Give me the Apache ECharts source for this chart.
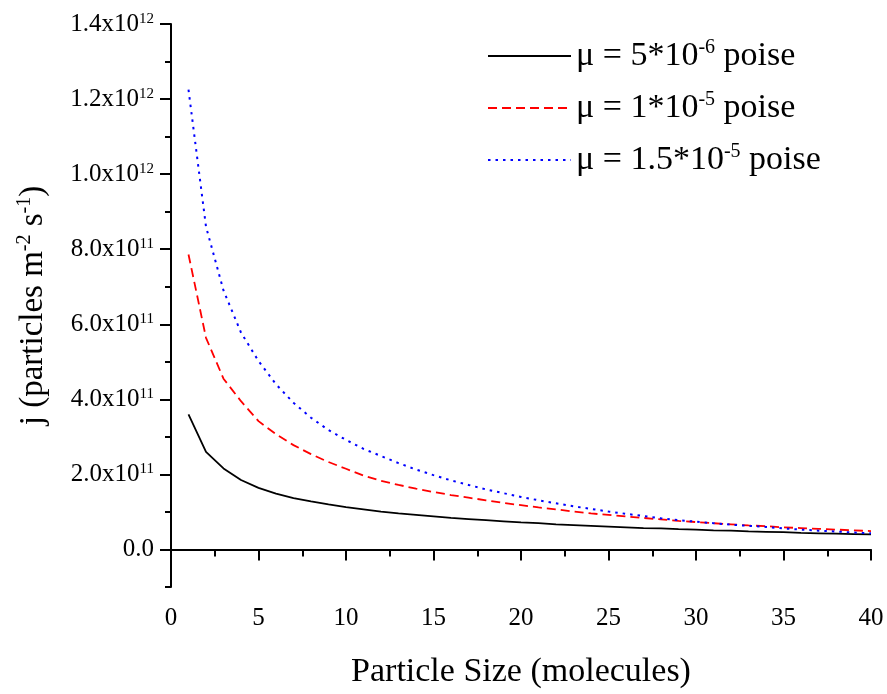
<!DOCTYPE html>
<html>
<head>
<meta charset="utf-8">
<script src="https://cdn.jsdelivr.net/npm/echarts@6/dist/echarts.min.js"></script>
<style>html,body{margin:0;padding:0;background:#fff;}#c{width:887px;height:694px;}</style>
</head>
<body>
<div id="c"></div>
<script>
// particle size (molecules)
const sizes = [1,2,3,4,5,6,7,8,9,10,11,12,13,14,15,16,17,18,19,20,21,22,23,24,25,26,27,28,29,30,31,32,33,34,35,36,37,38,39,40];
// j values in units of 1e11 particles m^-2 s^-1
const jMu5e6 = [3.60,2.60,2.16,1.85,1.64,1.49,1.37,1.28,1.20,1.13,1.07,1.01,0.96,0.92,0.88,0.84,0.81,0.78,0.75,0.72,0.70,0.67,0.65,0.63,0.61,0.59,0.57,0.56,0.54,0.53,0.51,0.50,0.48,0.47,0.46,0.44,0.43,0.42,0.41,0.40];
const jMu1e5 = [7.86,5.64,4.55,3.95,3.42,3.07,2.78,2.54,2.33,2.15,1.97,1.83,1.72,1.62,1.53,1.45,1.38,1.31,1.24,1.18,1.12,1.07,1.01,0.96,0.92,0.88,0.84,0.80,0.76,0.73,0.70,0.67,0.64,0.62,0.59,0.57,0.55,0.53,0.51,0.49];
const jMu15e5 = [12.25,8.60,6.90,5.78,5.02,4.40,3.91,3.51,3.18,2.92,2.68,2.49,2.30,2.13,1.98,1.84,1.72,1.60,1.50,1.40,1.31,1.23,1.15,1.08,1.01,0.95,0.89,0.83,0.78,0.74,0.70,0.66,0.63,0.60,0.56,0.53,0.50,0.48,0.45,0.43];
const seriesNames = ['μ = 5*10^-6 poise','μ = 1*10^-5 poise','μ = 1.5*10^-5 poise'];
const yLabelValues = [0,2e11,4e11,6e11,8e11,1e12,1.2e12,1.4e12];

const SCALE = 1e11;
const FONT = '"Liberation Serif","DejaVu Serif",serif';
function pairs(ys){ return sizes.map((x,i)=>[x, ys[i]*SCALE]); }

function yFmt(v){
  if (v === 0) return '{a|0.0}';
  const e = Math.floor(Math.log10(Math.abs(v)) + 1e-9);
  const m = v/Math.pow(10,e);
  return '{a|' + m.toFixed(1) + 'x10}{s|' + e + '}';
}
function legendFmt(name){
  const m = name.match(/^(.*)\^(\S+)(.*)$/);
  return '{t|' + m[1] + '}{s|' + m[2] + '}{t|' + m[3] + '}';
}

const chart = echarts.init(document.getElementById('c'));
const supStyle = {fontSize:15, fontFamily:FONT, color:'#000', verticalAlign:'top', lineHeight:14};
chart.setOption({
  animation:false,
  backgroundColor:'#fff',
  grid:{left:171, right:16, top:24, bottom:106},
  legend:{
    orient:'vertical', left:482, top:33, itemWidth:83, itemHeight:14, itemGap:17,
    formatter: legendFmt,
    itemStyle:{opacity:0},
    textStyle:{fontFamily:FONT, color:'#000', fontSize:34,
      rich:{t:{fontSize:34, fontFamily:FONT, color:'#000', lineHeight:36},
            s:{fontSize:20, fontFamily:FONT, color:'#000', verticalAlign:'top', lineHeight:18}}},
    data: seriesNames
  },
  xAxis:{
    type:'value', min:0, max:40, interval:5,
    name:'Particle Size (molecules)', nameLocation:'middle', nameGap:68,
    nameTextStyle:{fontFamily:FONT, fontSize:34, color:'#000'},
    axisLine:{show:true, lineStyle:{color:'#000', width:2}},
    axisTick:{show:true, length:11, lineStyle:{color:'#000', width:2}},
    minorTick:{show:true, splitNumber:2, length:7, lineStyle:{color:'#000', width:2}},
    axisLabel:{fontFamily:FONT, fontSize:25, color:'#000', margin:19},
    splitLine:{show:false}
  },
  yAxis:[{
    type:'value', min:-1e11, max:1.4e12, interval:1e11,
    axisLine:{show:true, onZero:false, lineStyle:{color:'#000', width:2}},
    axisTick:{show:true, length:6, lineStyle:{color:'#000', width:2}},
    axisLabel:{show:false},
    splitLine:{show:false},
    name:'{t|j (particles m}{s|-2}{t| s}{s|-1}{t|)}', nameLocation:'middle', nameGap:120, nameRotate:90,
    nameTextStyle:{fontFamily:FONT, fontSize:33, color:'#000',
      rich:{t:{fontSize:33, fontFamily:FONT, color:'#000', lineHeight:36},
            s:{fontSize:20, fontFamily:FONT, color:'#000', verticalAlign:'top', lineHeight:18}}}
  },{
    type:'value', min:-1e11, max:1.4e12, interval:1e11, position:'left',
    axisLine:{show:false},
    axisTick:{show:true, length:11, customValues:yLabelValues, lineStyle:{color:'#000', width:2}},
    axisLabel:{show:true, customValues:yLabelValues, formatter:yFmt, margin:17,
      rich:{a:{fontSize:25, fontFamily:FONT, color:'#000'}, s:supStyle}},
    splitLine:{show:false}
  }],
  series:[
    {name:seriesNames[0], type:'line', data:pairs(jMu5e6), symbol:'none', yAxisIndex:0,
     lineStyle:{color:'#000', width:1.8, type:'solid'}, itemStyle:{color:'#000'}},
    {name:seriesNames[1], type:'line', data:pairs(jMu1e5), symbol:'none', yAxisIndex:0,
     lineStyle:{color:'#ff0000', width:1.8, type:[9,5]}, itemStyle:{color:'#ff0000'}},
    {name:seriesNames[2], type:'line', data:pairs(jMu15e5), symbol:'none', yAxisIndex:0,
     lineStyle:{color:'#0000ff', width:2, type:[2.5,5]}, itemStyle:{color:'#0000ff'}}
  ]
});
</script>
</body>
</html>
